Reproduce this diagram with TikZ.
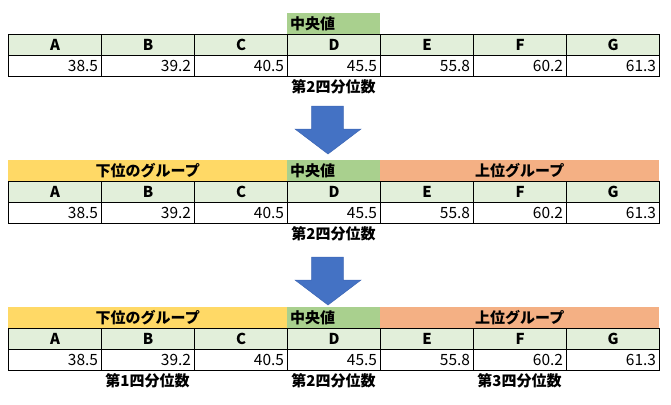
\documentclass[tikz,border=0pt]{standalone}
\usepackage{fontspec}
\setmainfont{Noto Sans CJK JP}
\definecolor{hdrgreen}{HTML}{E2EFDA}
\definecolor{medgreen}{HTML}{A9D08E}
\definecolor{lowyellow}{HTML}{FFD966}
\definecolor{uporange}{HTML}{F4B084}
\definecolor{arrowblue}{HTML}{4472C4}
\definecolor{arrowedge}{HTML}{3C66B4}
\tikzset{
  cell/.style={draw=black, line width=1.1pt, minimum width=93pt, minimum height=21pt, inner sep=0pt, anchor=north west},
  hdr/.style={cell, fill=hdrgreen, font=\bfseries\fontsize{15}{15}\selectfont, text height=11pt, text depth=0pt},
  val/.style={cell, font=\fontsize{15.5}{15.5}\selectfont, text width=86pt, align=right, text height=11.4pt, text depth=0pt},
  lbl/.style={anchor=north west, minimum height=21pt, inner sep=0pt, font=\bfseries\fontsize{15}{15}\selectfont, text height=11.4pt, text depth=0pt},
  lowlbl/.style={lbl, fill=lowyellow, minimum width=279pt},
  medlbl/.style={lbl, fill=medgreen, minimum width=93pt, text width=87pt, align=left},
  uplbl/.style={lbl, fill=uporange, minimum width=279pt},
  qlbl/.style={inner sep=0pt, font=\bfseries\fontsize{15}{15}\selectfont, text height=11.4pt, text depth=0pt},
  blockarrow/.style={fill=arrowblue, draw=arrowedge, line width=0.5pt}
}
\begin{document}
\begin{tikzpicture}[x=1pt,y=-1pt]
\useasboundingbox (0,0) rectangle (671,404);
% ---------- table 1 ----------
\node[medlbl] (m1) at (287,13) {中央値};
% ---------- table 2 labels ----------
\node[lowlbl] (lo2) at (8,160) {下位のグループ};
\node[medlbl] (m2) at (287,160) {中央値};
\node[uplbl]  (up2) at (380,160) {上位グループ};
% ---------- table 3 labels ----------
\node[lowlbl] (lo3) at (8,307) {下位のグループ};
\node[medlbl] (m3) at (287,307) {中央値};
\node[uplbl]  (up3) at (380,307) {上位グループ};
% ---------- cells ----------
\foreach \t/\y in {1/34, 2/181, 3/328}{
  \foreach \i/\L/\v in {0/A/38.5, 1/B/39.2, 2/C/40.5, 3/D/45.5, 4/E/55.8, 5/F/60.2, 6/G/61.3}{
    \node[hdr] (h\t\L) at (8+93*\i,\y) {\L};
    \node[val] (v\t\L) at (8+93*\i,\y+21) {\v};
  }
}
% ---------- quartile labels ----------
\node[qlbl] (q2a) at (333.5,87) {第2四分位数};
\node[qlbl] (q2b) at (333.5,234) {第2四分位数};
\node[qlbl] (q1c) at (147.5,381) {第1四分位数};
\node[qlbl] (q2c) at (333.5,381) {第2四分位数};
\node[qlbl] (q3c) at (519.5,381) {第3四分位数};
% ---------- arrows ----------
\path[blockarrow] (311.7,106) -- (343.3,106) -- (343.3,129) -- (361,129) -- (328,154) -- (295,129) -- (311.7,129) -- cycle;
\path[blockarrow] (311.7,257) -- (343.3,257) -- (343.3,280) -- (361,280) -- (328,305) -- (295,280) -- (311.7,280) -- cycle;
\end{tikzpicture}
\end{document}
